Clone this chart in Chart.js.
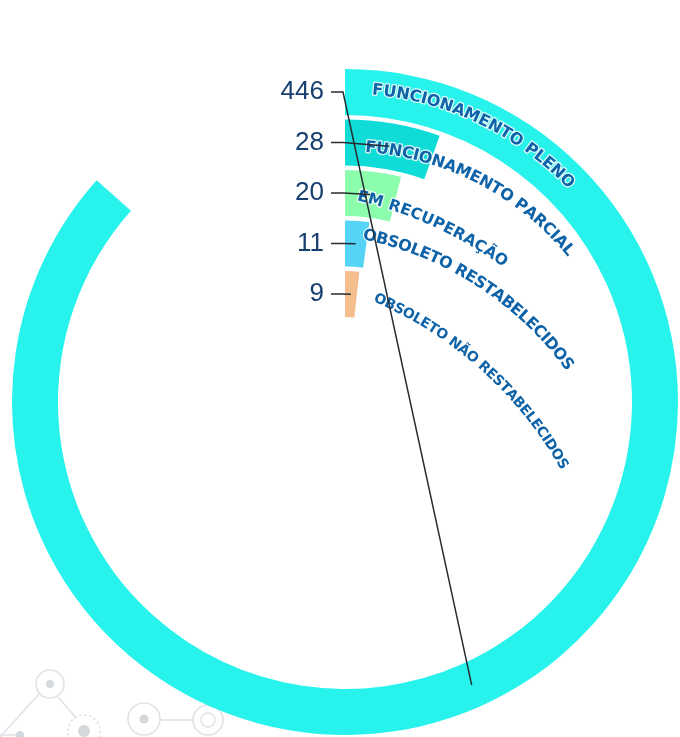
<!DOCTYPE html>
<html>
<head>
<meta charset="utf-8">
<script src="https://cdn.jsdelivr.net/npm/chart.js@4/dist/chart.umd.min.js"></script>
<style>
  html, body { margin: 0; padding: 0; background: #fff; }
  #radial { display: block; }
</style>
</head>
<body>
<canvas id="radial" width="680" height="737"></canvas>
<script>
// data
const categories = ['FUNCIONAMENTO PLENO', 'FUNCIONAMENTO PARCIAL', 'EM RECUPERAÇÃO', 'OBSOLETO RESTABELECIDOS', 'OBSOLETO NÃO RESTABELECIDOS'];
const values = [446, 28, 20, 11, 9];
const scaleMax = 515; // full turn of the radial axis

const ringColors = ['#27f3ec', '#10dcd7', '#8cfdad', '#55d4f6', '#f4be8f'];
const textBlue = '#0e63a8';

// curved label paths (layout only): circle offset from chart centre, radius, start angle, arc length
const labelPaths = [
    { dx: 0,    dy: 0,   r: 313, start: 5.0,  length: 226, size: 16 },
    { dx: 0,    dy: 37,  r: 292, start: 4.0,  length: 238, size: 16 },
    { dx: -84,  dy: 203, r: 420, start: 13.3, length: 164, size: 15.5 },
    { dx: -51,  dy: 167, r: 341, start: 11.7, length: 252, size: 16 },
    { dx: -126, dy: 260, r: 396, start: 23.1, length: 260, size: 14 }
];

const datasets = [];
values.forEach((v, i) => {
    datasets.push({
        label: categories[i],
        data: [v, scaleMax - v],
        backgroundColor: [ringColors[i], 'rgba(0,0,0,0)'],
        borderWidth: 0,
        weight: 46
    });
    if (i < values.length - 1) {
        datasets.push({ label: 'gap', data: [1], backgroundColor: ['rgba(0,0,0,0)'], borderWidth: 0, weight: 4.5 });
    }
});

// faint network decoration in the lower left corner
const backdrop = {
    id: 'backdrop',
    beforeDatasetsDraw(chart) {
        const ctx = chart.ctx;
        ctx.save();
        ctx.strokeStyle = '#dfe3e7';
        ctx.fillStyle = '#d3d8dc';
        ctx.lineWidth = 1.6;
        const ring = (x, y, r, dash) => {
            ctx.setLineDash(dash || []);
            ctx.beginPath(); ctx.arc(x, y, r, 0, Math.PI * 2); ctx.stroke();
            ctx.setLineDash([]);
        };
        const dot = (x, y, r) => { ctx.beginPath(); ctx.arc(x, y, r, 0, Math.PI * 2); ctx.fill(); };
        const seg = (x1, y1, x2, y2) => { ctx.beginPath(); ctx.moveTo(x1, y1); ctx.lineTo(x2, y2); ctx.stroke(); };
        seg(0, 737, 39, 694);
        seg(58, 697, 76, 718);
        seg(0, 735, 16, 735);
        ring(50, 684, 14);
        dot(50, 684, 4);
        ring(84, 731, 16, [2.5, 2.5]);
        dot(84, 731, 6);
        dot(20, 735, 4);
        ring(144, 719, 16);
        dot(144, 719, 4.5);
        seg(160, 720, 193, 720);
        ring(208, 720, 15);
        ring(208, 720, 7);
        ctx.restore();
    }
};

// text written along curved paths
const arcText = {
    id: 'arcText',
    afterDatasetsDraw(chart) {
        const ctx = chart.ctx;
        const a0 = chart.getDatasetMeta(0).data[0];
        const cx = a0.x, cy = a0.y;
        labelPaths.forEach((p, i) => {
            const chars = [...categories[i]];
            ctx.save();
            ctx.font = `bold ${p.size}px "DejaVu Sans"`;
            const widths = chars.map(ch => ctx.measureText(ch).width);
            const sum = widths.reduce((s, w) => s + w, 0);
            const gap = (p.length - sum) / (chars.length - 1);
            const ox = cx + p.dx, oy = cy + p.dy;
            let ang = p.start * Math.PI / 180;
            chars.forEach((ch, k) => {
                const th = ang + widths[k] / 2 / p.r;
                ctx.save();
                ctx.translate(ox + p.r * Math.sin(th), oy - p.r * Math.cos(th));
                ctx.rotate(th);
                ctx.textAlign = 'center';
                ctx.textBaseline = 'middle';
                ctx.lineJoin = 'round';
                ctx.lineWidth = 2.5;
                ctx.strokeStyle = 'rgba(255,255,255,0.85)';
                ctx.strokeText(ch, 0, 0);
                ctx.fillStyle = textBlue;
                ctx.fillText(ch, 0, 0);
                ctx.restore();
                ang += (widths[k] + gap) / p.r;
            });
            ctx.restore();
        });
    }
};

// value labels with leader lines to the middle of each bar
const valueLabels = {
    id: 'valueLabels',
    afterDraw(chart) {
        const ctx = chart.ctx;
        ctx.save();
        values.forEach((v, i) => {
            const arc = chart.getDatasetMeta(i * 2).data[0];
            const mid = arc.getCenterPoint();
            const y = arc.y - (arc.innerRadius + arc.outerRadius) / 2;
            const elbowX = arc.x - 2;
            const startX = arc.x - 14;
            ctx.strokeStyle = '#262c33';
            ctx.lineWidth = 1.5;
            ctx.beginPath();
            ctx.moveTo(startX, y);
            ctx.lineTo(elbowX, y);
            ctx.lineTo(mid.x, mid.y);
            ctx.stroke();
            ctx.fillStyle = '#173f6f';
            ctx.font = '26px "Liberation Sans", Arial, sans-serif';
            ctx.textAlign = 'right';
            ctx.textBaseline = 'middle';
            ctx.fillText(String(v), startX - 7, y);
        });
        ctx.restore();
    }
};

new Chart(document.getElementById('radial').getContext('2d'), {
    type: 'doughnut',
    data: { labels: ['valor', 'resto'], datasets: datasets },
    options: {
        responsive: false,
        animation: false,
        cutout: 85,
        rotation: 0,
        circumference: 360,
        layout: { padding: { left: 12, top: 69, right: 2, bottom: 2 } },
        plugins: {
            legend: { display: false },
            tooltip: { enabled: false }
        }
    },
    plugins: [backdrop, arcText, valueLabels]
});
</script>
</body>
</html>
